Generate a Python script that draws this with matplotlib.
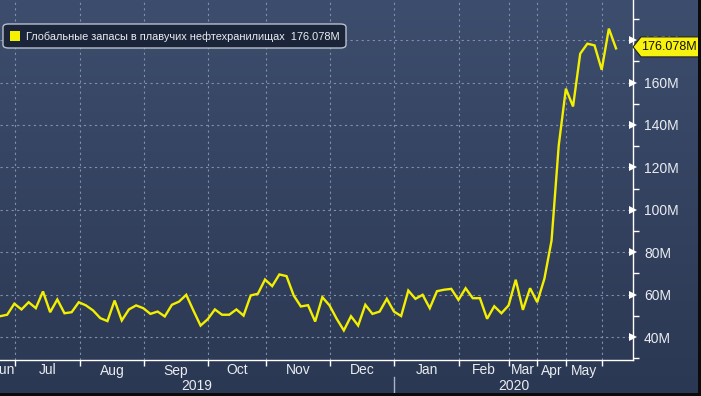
import matplotlib
matplotlib.use('Agg')
import matplotlib.pyplot as plt
import numpy as np
from matplotlib.patches import FancyBboxPatch, Rectangle, Polygon

# ---------------- data ----------------
series_name = 'Глобальные запасы в плавучих нефтехранилищах'
last_value_label = '176.078M'
values = [49.8, 50.5, 55.7, 53.0, 56.4, 53.6, 61.5, 51.7, 57.7, 51.2,
          51.7, 56.4, 54.9, 52.5, 48.9, 47.5, 57.2, 47.8, 53.0, 54.9,
          53.6, 50.9, 52.0, 49.7, 55.2, 56.7, 59.9, 52.5, 45.4, 48.4,
          53.0, 50.5, 50.5, 53.0, 50.1, 59.6, 60.4, 67.1, 64.0, 69.5,
          68.7, 59.6, 54.4, 55.0, 47.3, 58.8, 54.9, 48.6, 43.1, 49.8,
          45.4, 55.2, 50.9, 52.0, 58.0, 52.0, 49.9, 61.9, 58.0, 59.9,
          53.6, 61.6, 62.3, 62.7, 57.5, 63.0, 58.3, 58.3, 48.6, 54.5,
          51.2, 54.9, 67.0, 52.8, 63.0, 56.4, 67.5, 85.5, 130.3, 157.1,
          148.7, 173.6, 178.3, 177.5, 166.0, 185.4, 176.078]
month_labels = ['Jun', 'Jul', 'Aug', 'Sep', 'Oct', 'Nov', 'Dec',
                'Jan', 'Feb', 'Mar', 'Apr', 'May']
# observation index where each month starts (Jul .. Jun)
month_starts = [2.09, 11.17, 20.1, 29.04, 37.1, 46.07, 55.0, 64.08,
                71.1, 75.0, 79.0, 84.1]
year_labels = ['2019', '2020']
year_split = 55.0
y_major = [40, 60, 80, 100, 120, 140, 160, 180]
y_minor = [30, 50, 70, 90, 110, 130, 150, 170, 190]

# ---------------- style ----------------
W, H = 701, 396
plt.rcParams['font.family'] = ['Liberation Sans', 'DejaVu Sans']
TXT = '#e9edf2'
GRID = '#7d90ad'
FS = 10

fig = plt.figure(figsize=(W / 100, H / 100), dpi=100)

# gradient background
bg = fig.add_axes([0, 0, 1, 1], zorder=-10)
grad = np.linspace(0, 1, 256).reshape(-1, 1)
top = np.array([0x3d, 0x4d, 0x6d]) / 255
bot = np.array([0x2b, 0x38, 0x53]) / 255
img = top[None, None, :] * (1 - grad[:, :, None]) + bot[None, None, :] * grad[:, :, None]
bg.imshow(img, aspect='auto', extent=[0, 1, 0, 1])
bg.set_axis_off()

ax_left, ax_right, ax_bottom, ax_top = 0, 633, 360, 0
ax = fig.add_axes([ax_left / W, (H - ax_bottom) / H, (ax_right - ax_left) / W,
                   (ax_bottom - ax_top) / H])
ax.patch.set_alpha(0)

x = np.arange(len(values))
xmin, xmax = 0, 88.37
ymin, ymax = 29.16, 198.9
ax.set_xlim(xmin, xmax)
ax.set_ylim(ymin, ymax)

# grid
for m in month_starts:
    ax.axvline(m, color=GRID, lw=0.8, ls=(0, (2, 3)), zorder=1)
for yv in y_major:
    ax.axhline(yv, color=GRID, lw=0.8, ls=(0, (2, 3)), zorder=1)

ax.plot(x, values, color='#f3ef00', lw=1.7, zorder=3, solid_joinstyle='miter')

# spines
for s in ['top', 'left']:
    ax.spines[s].set_visible(False)
for s in ['right', 'bottom']:
    ax.spines[s].set_color('white')
    ax.spines[s].set_linewidth(1.0)

# y axis on right
ax.yaxis.tick_right()
ax.set_yticks(y_major)
ax.set_yticklabels([f'{v}M' for v in y_major])
ax.set_yticks(y_minor, minor=True)
ax.tick_params(axis='y', which='major', length=0, pad=8, labelsize=FS,
               labelcolor=TXT)
ax.tick_params(axis='y', which='minor', length=4, width=1, color='white',
               direction='out')
ax.plot([xmax] * len(y_major), y_major, linestyle='none', marker='>',
        markersize=5.5, color='white', clip_on=False, zorder=5,
        markeredgewidth=0)

# x axis
ax.set_xticks(month_starts)
ax.set_xticklabels([])
ax.tick_params(axis='x', which='major', length=4, width=1, color='white',
               direction='out')
xt = ax.get_xaxis_transform()
for i, lab in enumerate(month_labels):
    if i == 0:
        cx = month_starts[0] - 1.6  # partial first month, label cut at edge
    else:
        cx = (month_starts[i - 1] + month_starts[i]) / 2
    ax.text(cx, -10.5 / 360, lab, transform=xt, ha='center', va='center',
            fontsize=FS, color=TXT)
ax.text((xmin + year_split) / 2, -25.5 / 360, year_labels[0], transform=xt,
        ha='center', va='center', fontsize=FS, color=TXT)
ax.text((year_split + xmax) / 2, -25.5 / 360, year_labels[1], transform=xt,
        ha='center', va='center', fontsize=FS, color=TXT)
ax.plot([year_split, year_split], [-17 / 360, -36 / 360], transform=xt,
        color='#aab4c4', lw=1, clip_on=False)


def fx(px):
    return px / W


def fy(py):
    return (H - py) / H


# legend box
leg = FancyBboxPatch((fx(3), fy(48)), fx(346) - fx(3), fy(24) - fy(48),
                     boxstyle='round,pad=0,rounding_size=0.008',
                     transform=fig.transFigure, facecolor='#1b2539',
                     edgecolor='#b8c0cc', lw=1, zorder=10)
fig.patches.append(leg)
fig.patches.append(Rectangle((fx(10), fy(41)), fx(20) - fx(10), fy(31) - fy(41),
                             transform=fig.transFigure, facecolor='#f5f000',
                             edgecolor='none', zorder=11))
fig.text(fx(26), fy(36.5), f'{series_name}  {last_value_label}', fontsize=7.95,
         color=TXT, va='center', ha='left', zorder=12)

# last value tag
fig.canvas.draw()
yl = ax.transData.transform((0, values[-1]))[1]
tag_cy = H - yl - 1.5
poly = Polygon([(fx(633), fy(tag_cy)), (fx(641), fy(tag_cy - 10)),
                (fx(699), fy(tag_cy - 10)), (fx(699), fy(tag_cy + 10)),
                (fx(641), fy(tag_cy + 10))], closed=True,
               transform=fig.transFigure, facecolor='#f7f20f',
               edgecolor='#222222', lw=0.8, zorder=15)
fig.patches.append(poly)
fig.text(fx(669), fy(tag_cy), last_value_label, fontsize=9, color='#111111',
         ha='center', va='center', zorder=16)

# dark frame right/bottom
fig.patches.append(Rectangle((fx(698), 0), fx(701) - fx(698), 1,
                             transform=fig.transFigure, facecolor='#0b0b0b',
                             edgecolor='none', zorder=20))
fig.patches.append(Rectangle((0, 0), 1, fy(393), transform=fig.transFigure,
                             facecolor='#0b0b0b', edgecolor='none', zorder=20))

fig.savefig('out.png', dpi=100)
